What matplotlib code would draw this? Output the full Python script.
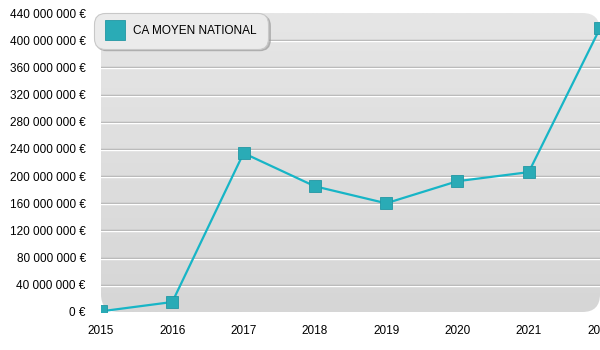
import numpy as np
import matplotlib.pyplot as plt
from matplotlib.patches import FancyBboxPatch
from matplotlib.lines import Line2D
from matplotlib.colors import LinearSegmentedColormap
from matplotlib import transforms
from matplotlib.ticker import FuncFormatter

plt.rcParams['font.family'] = ['Liberation Sans', 'DejaVu Sans']

# yearly averages
years = [2015, 2016, 2017, 2018, 2019, 2020, 2021, 2022]
ca_moyen = [1000000, 14700000, 233800000, 185000000, 160000000,
            192500000, 205800000, 417500000]
series_name = 'CA MOYEN NATIONAL'

fig = plt.figure(figsize=(6, 3.5), dpi=100)
ax = fig.add_axes([101 / 600, 38 / 350, 499 / 600, 299 / 350])
ax.set_xlim(2015, 2022)
ax.set_ylim(0, 440000000)
for s in ax.spines.values():
    s.set_visible(False)

# rounded grey panel with a soft vertical gradient
panel = FancyBboxPatch((0, 0), 1.0, 1.0, boxstyle='round,pad=0,rounding_size=0.035',
                       transform=ax.transAxes, facecolor='none', edgecolor='none',
                       mutation_aspect=1.7, zorder=0)
ax.add_patch(panel)
grad = np.linspace(0, 1, 256).reshape(-1, 1)
img = ax.imshow(grad, extent=[2015, 2022.6, 0, 440000000], aspect='auto',
                cmap=LinearSegmentedColormap.from_list('bg', ['#d6d6d6', '#e6e6e6']),
                origin='lower', zorder=0)
img.set_clip_path(panel)

# grid lines: grey line with a white highlight just below
ticks = np.arange(0, 440000001, 40000000)
down = transforms.offset_copy(ax.transData, fig=fig, x=0, y=-1, units='dots')
for t in ticks[1:-1]:
    ax.axhline(t, color='#ababab', lw=1, zorder=1)
    ax.plot([2015, 2023], [t, t], color='white', lw=1, transform=down, zorder=1)

ax.plot(years, ca_moyen, color='#17b5c6', lw=1.6, zorder=3,
        marker='s', markersize=8, markerfacecolor='#2aabb6',
        markeredgecolor='#2197a3', markeredgewidth=0.6)

ax.set_yticks(ticks)
ax.yaxis.set_major_formatter(
    FuncFormatter(lambda v, p: '{:,.0f} €'.format(v).replace(',', ' ')))
ax.set_xticks(years)
ax.set_xticklabels([str(y) for y in years])
ax.tick_params(axis='both', length=0, labelsize=8.5, colors='black')
ax.tick_params(axis='y', pad=11)
ax.tick_params(axis='x', pad=9)

handle = Line2D([], [], linestyle='none', marker='s', markersize=14,
                markerfacecolor='#2aabb6', markeredgecolor='#2197a3',
                markeredgewidth=0.6)
leg = fig.legend([handle], [series_name], loc='upper left',
                 bbox_to_anchor=(94 / 600, 1 - 13 / 350), fontsize=8.5,
                 frameon=True, fancybox=True, facecolor='#ebebeb',
                 edgecolor='#c8c8c8', framealpha=1, borderpad=1.0,
                 handletextpad=0.8, handlelength=1.5, borderaxespad=0,
                 shadow={'ox': 1.5, 'oy': -1.5, 'color': '#9a9a9a', 'alpha': 0.6})
leg.get_frame().set_linewidth(0.8)
leg.get_frame().set_boxstyle('round,pad=0,rounding_size=0.9')

fig.savefig('out.png', dpi=100)
